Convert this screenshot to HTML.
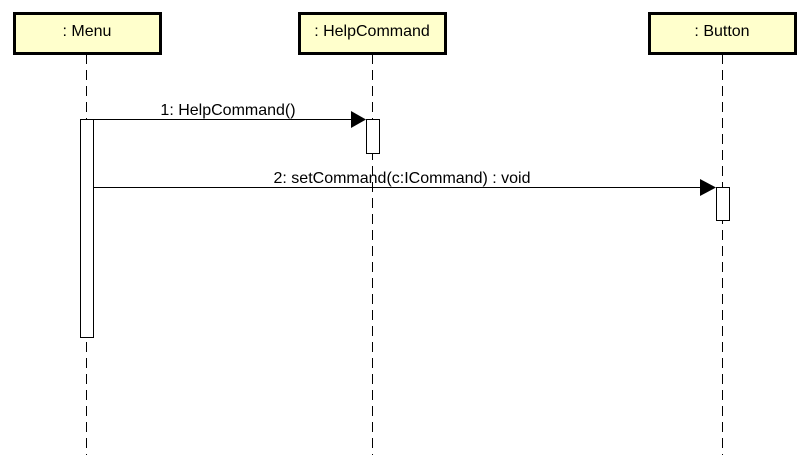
<!DOCTYPE html>
<html><head><style>body{margin:0;background:#fff}</style></head><body>
<svg width="809" height="466" xmlns="http://www.w3.org/2000/svg" font-family="Liberation Sans, Arial, sans-serif" font-size="16">
<rect width="809" height="466" fill="#fff"/>
<g stroke="#000" stroke-width="1" stroke-dasharray="10,6">
<line x1="86.5" y1="54" x2="86.5" y2="455"/>
<line x1="372.5" y1="54" x2="372.5" y2="455"/>
<line x1="722.5" y1="54" x2="722.5" y2="455"/>
</g>
<g fill="#ffffcc" stroke="#000" stroke-width="3">
<rect x="14.5" y="13.5" width="146" height="40"/>
<rect x="299.5" y="13.5" width="146" height="40"/>
<rect x="649.5" y="13.5" width="146" height="40"/>
</g>
<g text-anchor="middle" fill="#000">
<text x="87" y="36">: Menu</text>
<text x="372" y="36">: HelpCommand</text>
<text x="722" y="36">: Button</text>
</g>
<g fill="#fff" stroke="#000" stroke-width="1">
<rect x="80.5" y="119.5" width="13" height="218"/>
<rect x="366.5" y="119.5" width="13" height="34"/>
<rect x="716.5" y="187.5" width="13" height="33"/>
</g>
<line x1="93" y1="119.5" x2="352" y2="119.5" stroke="#000"/>
<polygon points="351,111 366,119.5 351,128" fill="#000"/>
<text x="228" y="115" text-anchor="middle">1: HelpCommand()</text>
<line x1="93" y1="187.5" x2="701" y2="187.5" stroke="#000"/>
<polygon points="700,179 716,187.5 700,196" fill="#000"/>
<text x="402" y="183" text-anchor="middle">2: setCommand(c:ICommand) : void</text>
</svg>
</body></html>
